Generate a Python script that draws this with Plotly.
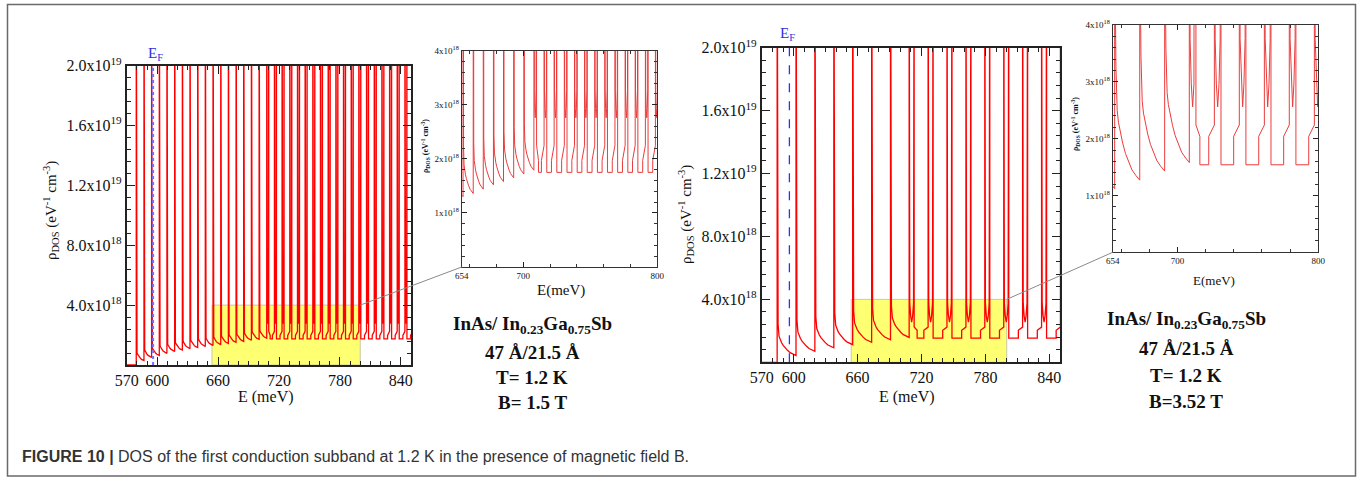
import plotly.graph_objects as go

W, H = 1363, 480
SERIF = "Liberation Serif, Times New Roman, serif"
SANS = "Liberation Sans, Arial, sans-serif"
E18 = 1e18

# ---- B = 1.5 T : single Landau levels (meV) and DOS minima before the next level (1e18 eV^-1 cm^-3)
LEVELS_15 = [579.4, 587.0, 594.5, 602.1, 609.6, 617.2, 624.8, 632.3, 639.9,
             647.4, 655.0, 662.6, 670.1, 677.7, 685.2, 692.8, 700.4]
MINIMA_15 = [0.30, 0.50, 0.64, 0.78, 0.90, 1.00, 1.09, 1.17, 1.24,
             1.30, 1.36, 1.44, 1.52, 1.58, 1.65, 1.72, 1.79]
# split level pairs (first peak of each pair, meV)
PAIRS_15 = [707.9, 715.5, 723.0, 730.6, 738.2, 745.7, 753.3, 760.8, 768.4, 776.0,
            783.5, 791.1, 798.6, 806.2, 813.8, 821.3, 828.9, 836.4, 844.0, 851.6]

# ---- B = 3.52 T
LEVELS_352 = [584.5, 602.2, 619.9, 637.7, 655.4, 673.2, 690.9]
MINIMA_352 = [0.43, 0.70, 0.92, 1.12, 1.27, 1.43, 1.58]
PAIRS_352 = [708.4, 726.2, 743.9, 761.7, 779.4, 797.2, 814.9, 832.7, 850.4]

# pair geometry per field: gap, dip minimum, floor, step lead, step low/high, tail amplitude
PAIR_GAP = {"1.5": 2.0, "3.52": 4.7}
PAIR_DIP = {"1.5": 2.76, "3.52": 2.56}
FLOOR = {"1.5": 1.75, "3.52": 1.54}
STEP_LEAD = {"1.5": 2.0, "3.52": 4.0}
STEP_LO = {"1.5": 1.97, "3.52": 2.04}
STEP_HI = {"1.5": 2.25, "3.52": 2.24}
TAIL_AMP = {"1.5": 0.43, "3.52": 1.0}

# decay of the DOS after a level (fraction of level spacing -> excess over minimum, 1e18)
DECAY_T = [0.0, 0.01, 0.025, 0.05, 0.10, 0.15, 0.23, 0.32, 0.43, 0.55, 0.69, 0.85, 1.0]
DECAY_D = [None, 6.0, 3.2, 2.0, 1.23, 1.02, 0.83, 0.65, 0.47, 0.33, 0.18, 0.08, 0.0]
# dip between the two peaks of a pair (fraction of gap -> excess over dip minimum, 1e18)
DIP_T = [0.0, 0.12, 0.3, 0.5, 0.7, 0.88, 1.0]
DIP_D = [None, 1.2, 0.4, 0.0, 0.4, 1.2, None]

PEAK_TOP = 30.0   # peaks run off the top of the axes
EF = 596.0


def dos_curve(levels, minima, pairs, key, e0=570.0, e1=850.0):
    gap, dip, floor = PAIR_GAP[key], PAIR_DIP[key], FLOOR[key]
    lead, lo, hi, amp = STEP_LEAD[key], STEP_LO[key], STEP_HI[key], TAIL_AMP[key]
    xs = [e0, levels[0], levels[0]]
    ys = [0.0, 0.0, PEAK_TOP]
    nexts = levels[1:] + [pairs[0]]
    for a, b, m in zip(levels, nexts, minima):
        for t, d in zip(DECAY_T[1:], DECAY_D[1:]):
            xs.append(a + t * (b - a))
            ys.append(m + amp * d)
        xs.append(b)
        ys.append(PEAK_TOP)
    for i, a in enumerate(pairs):
        for t, d in zip(DIP_T[1:], DIP_D[1:]):
            xs.append(a + t * gap)
            ys.append(PEAK_TOP if d is None else dip + amp * d)
        end = a + gap
        if i == 0:
            xs += [end, end + 0.7 * lead, end + 0.7 * lead]
            ys += [hi, lo, floor]
        else:
            xs.append(end)
            ys.append(floor)
        if i + 1 < len(pairs):
            n = pairs[i + 1]
            xs += [n - lead, n - lead, n, n]
            ys += [floor, lo, hi, PEAK_TOP]
        else:
            xs.append(e1 + 5)
            ys.append(floor)
    return xs, [v * E18 for v in ys]


x15, y15 = dos_curve(LEVELS_15, MINIMA_15, PAIRS_15, "1.5")
x352, y352 = dos_curve(LEVELS_352, MINIMA_352, PAIRS_352, "3.52")

# panel boxes in pixels (left, top, right, bottom)
BOX = {
    "main15": (126.7, 65.7, 411.0, 365.0),
    "ins15": (461.7, 50.7, 657.3, 267.0),
    "main352": (761.7, 47.7, 1060.0, 362.3),
    "ins352": (1112.7, 25.0, 1318.3, 252.3),
}
MAIN_X = [570, 850]
MAIN_Y = [0, 2.0e19]
INS_X = [654, 800]
INS_Y = [0, 4.0e18]
ZOOM_X = [654, 800]
ZOOM_Y = [0, 4.0e18]


def px(x):
    return x / W


def py(y):
    return 1 - y / H


def dom(box):
    l, t, r, b = BOX[box]
    return [px(l), px(r)], [py(b), py(t)]


def to_paper(box, xr, yr, xv, yv):
    l, t, r, b = BOX[box]
    xp = l + (xv - xr[0]) / (xr[1] - xr[0]) * (r - l)
    yp = b - (yv - yr[0]) / (yr[1] - yr[0]) * (b - t)
    return px(xp), py(yp)


fig = go.Figure()

for xs, ys, xa, ya in [(x15, y15, "x", "y"), (x352, y352, "x3", "y3")]:
    fig.add_trace(go.Scatter(x=xs, y=ys, xaxis=xa, yaxis=ya, mode="lines",
                             line=dict(color="#ff0000", width=1.3), hoverinfo="skip"))
for xs, ys, xa, ya in [(x15, y15, "x2", "y2"), (x352, y352, "x4", "y4")]:
    fig.add_trace(go.Scatter(x=xs, y=ys, xaxis=xa, yaxis=ya, mode="lines",
                             line=dict(color="#ec3b3b", width=1.0), hoverinfo="skip"))

# Fermi level markers
fig.add_trace(go.Scatter(x=[EF, EF], y=MAIN_Y, xaxis="x", yaxis="y", mode="lines",
                         line=dict(color="#7070ff", width=2, dash="dot"), hoverinfo="skip"))
fig.add_trace(go.Scatter(x=[EF, EF], y=MAIN_Y, xaxis="x3", yaxis="y3", mode="lines",
                         line=dict(color="#2f2fff", width=1.3, dash="dash"), hoverinfo="skip"))

frame = dict(showline=True, linecolor="#222", mirror="allticks", ticks="inside",
             tickcolor="#222", showgrid=False, zeroline=False)

main_y_vals = [4e18, 8e18, 1.2e19, 1.6e19, 2.0e19]
main_y_text = ["4.0x10<sup>18</sup>", "8.0x10<sup>18</sup>", "1.2x10<sup>19</sup>",
               "1.6x10<sup>19</sup>", "2.0x10<sup>19</sup>"]
main_x_vals = [570, 600, 660, 720, 780, 840]
ins_y_vals = [1e18, 2e18, 3e18, 4e18]
ins_y_text = ["1x10<sup>18</sup>", "2x10<sup>18</sup>", "3x10<sup>18</sup>", "4x10<sup>18</sup>"]
ins_x_vals = [654, 700, 800]


def main_axes(box):
    dx, dy = dom(box)
    xa = dict(frame, domain=dx, range=MAIN_X, tickmode="array", tickvals=main_x_vals,
              ticktext=[str(v) for v in main_x_vals], ticklen=8, tickwidth=1.3, linewidth=1.8,
              tickfont=dict(family=SERIF, size=16, color="#111"),
              minor=dict(ticks="inside", tickmode="linear", tick0=570, dtick=10, ticklen=4,
                         tickwidth=1, tickcolor="#222", showgrid=False))
    ya = dict(frame, domain=dy, range=MAIN_Y, tickmode="array", tickvals=main_y_vals,
              ticktext=main_y_text, ticklen=8, tickwidth=1.3, linewidth=1.8,
              tickfont=dict(family=SERIF, size=16, color="#111"),
              minor=dict(ticks="inside", tickmode="linear", tick0=0, dtick=8e17, ticklen=4,
                         tickwidth=1, tickcolor="#222", showgrid=False))
    return xa, ya


def inset_axes(box):
    dx, dy = dom(box)
    xa = dict(frame, domain=dx, range=INS_X, tickmode="array", tickvals=ins_x_vals,
              ticktext=[str(v) for v in ins_x_vals], ticklen=5, tickwidth=1, linewidth=1,
              linecolor="#333", tickfont=dict(family=SERIF, size=9, color="#111"),
              minor=dict(ticks="inside", tickmode="linear", tick0=0, dtick=20, ticklen=3,
                         tickwidth=0.8, tickcolor="#333", showgrid=False))
    ya = dict(frame, domain=dy, range=INS_Y, tickmode="array", tickvals=ins_y_vals,
              ticktext=ins_y_text, ticklen=5, tickwidth=1, linewidth=1, linecolor="#333",
              tickfont=dict(family=SERIF, size=9, color="#111"),
              minor=dict(ticks="inside", tickmode="linear", tick0=0, dtick=2e17, ticklen=3,
                         tickwidth=0.8, tickcolor="#333", showgrid=False))
    return xa, ya


x1, y1 = main_axes("main15")
x2, y2 = inset_axes("ins15")
x3, y3 = main_axes("main352")
x4, y4 = inset_axes("ins352")

shapes = []
# highlighted energy window and its connector to the magnified view
for xr, yr, main_box, ins_box in [("x", "y", "main15", "ins15"), ("x3", "y3", "main352", "ins352")]:
    shapes.append(dict(type="rect", xref=xr, yref=yr, x0=ZOOM_X[0], x1=ZOOM_X[1],
                       y0=ZOOM_Y[0], y1=ZOOM_Y[1], fillcolor="#ffff72",
                       line=dict(color="#c9c9a8", width=1), layer="below"))
    ax, ay = to_paper(main_box, MAIN_X, MAIN_Y, ZOOM_X[1], ZOOM_Y[1])
    bx, by = to_paper(ins_box, INS_X, INS_Y, INS_X[0], INS_Y[0])
    shapes.append(dict(type="line", xref="paper", yref="paper", x0=ax, y0=ay, x1=bx, y1=by,
                       line=dict(color="#8a8a8a", width=1)))
# outer frame of the figure
shapes.append(dict(type="rect", xref="paper", yref="paper", x0=px(7.5), x1=px(1355.5),
                   y0=py(476), y1=py(4.5), line=dict(color="#6a6a6a", width=1.5)))

ann = []


def label(text, x, y, size, color="#111", family=SERIF, angle=0, xanchor="center"):
    ann.append(dict(text=text, x=px(x), y=py(y), xref="paper", yref="paper", showarrow=False,
                    xanchor=xanchor, yanchor="middle", textangle=angle,
                    font=dict(family=family, size=size, color=color)))


RHO = "\u03c1<sub>DOS</sub> (eV<sup>-1</sup> cm<sup>-3</sup>)"
label("E<sub>F</sub>", 155, 54, 15, color="#3030e0")
label("E<sub>F</sub>", 787, 34, 15, color="#3030e0")
label(RHO, 51, 211, 15, angle=-90)
label(RHO, 686, 215, 15, angle=-90)
label("<b>" + RHO + "</b>", 425, 146, 8, angle=-90)
label("<b>" + RHO + "</b>", 1076, 124, 8, angle=-90)
label("E (meV)", 266, 397, 16)
label("E (meV)", 907, 397, 16)
label("E(meV)", 561, 290, 15)
label("E(meV)", 1214, 280, 13)

BLOCK_15 = ["InAs/ In<sub>0.23</sub>Ga<sub>0.75</sub>Sb", "47 \u00c5/21.5 \u00c5", "T= 1.2 K", "B= 1.5 T"]
BLOCK_352 = ["InAs/ In<sub>0.23</sub>Ga<sub>0.75</sub>Sb", "47 \u00c5/21.5 \u00c5", "T= 1.2 K", "B=3.52 T"]
for text, yy in zip(BLOCK_15, [325, 352, 377, 402]):
    label("<b>" + text + "</b>", 532, yy, 19)
for text, yy in zip(BLOCK_352, [320, 348, 375, 401]):
    label("<b>" + text + "</b>", 1186, yy, 19)

label("<b>FIGURE 10 |</b> DOS of the first conduction subband at 1.2 K in the presence of magnetic field B.",
      20, 456, 16, color="#333", family=SANS, xanchor="left")

fig.update_layout(
    width=W, height=H, margin=dict(l=0, r=0, t=0, b=0, autoexpand=False),
    paper_bgcolor="white", plot_bgcolor="rgba(0,0,0,0)", showlegend=False,
    xaxis=dict(x1, anchor="y"), yaxis=dict(y1, anchor="x"),
    xaxis2=dict(x2, anchor="y2"), yaxis2=dict(y2, anchor="x2"),
    xaxis3=dict(x3, anchor="y3"), yaxis3=dict(y3, anchor="x3"),
    xaxis4=dict(x4, anchor="y4"), yaxis4=dict(y4, anchor="x4"),
    shapes=shapes, annotations=ann,
)

fig.write_html("out.html")
